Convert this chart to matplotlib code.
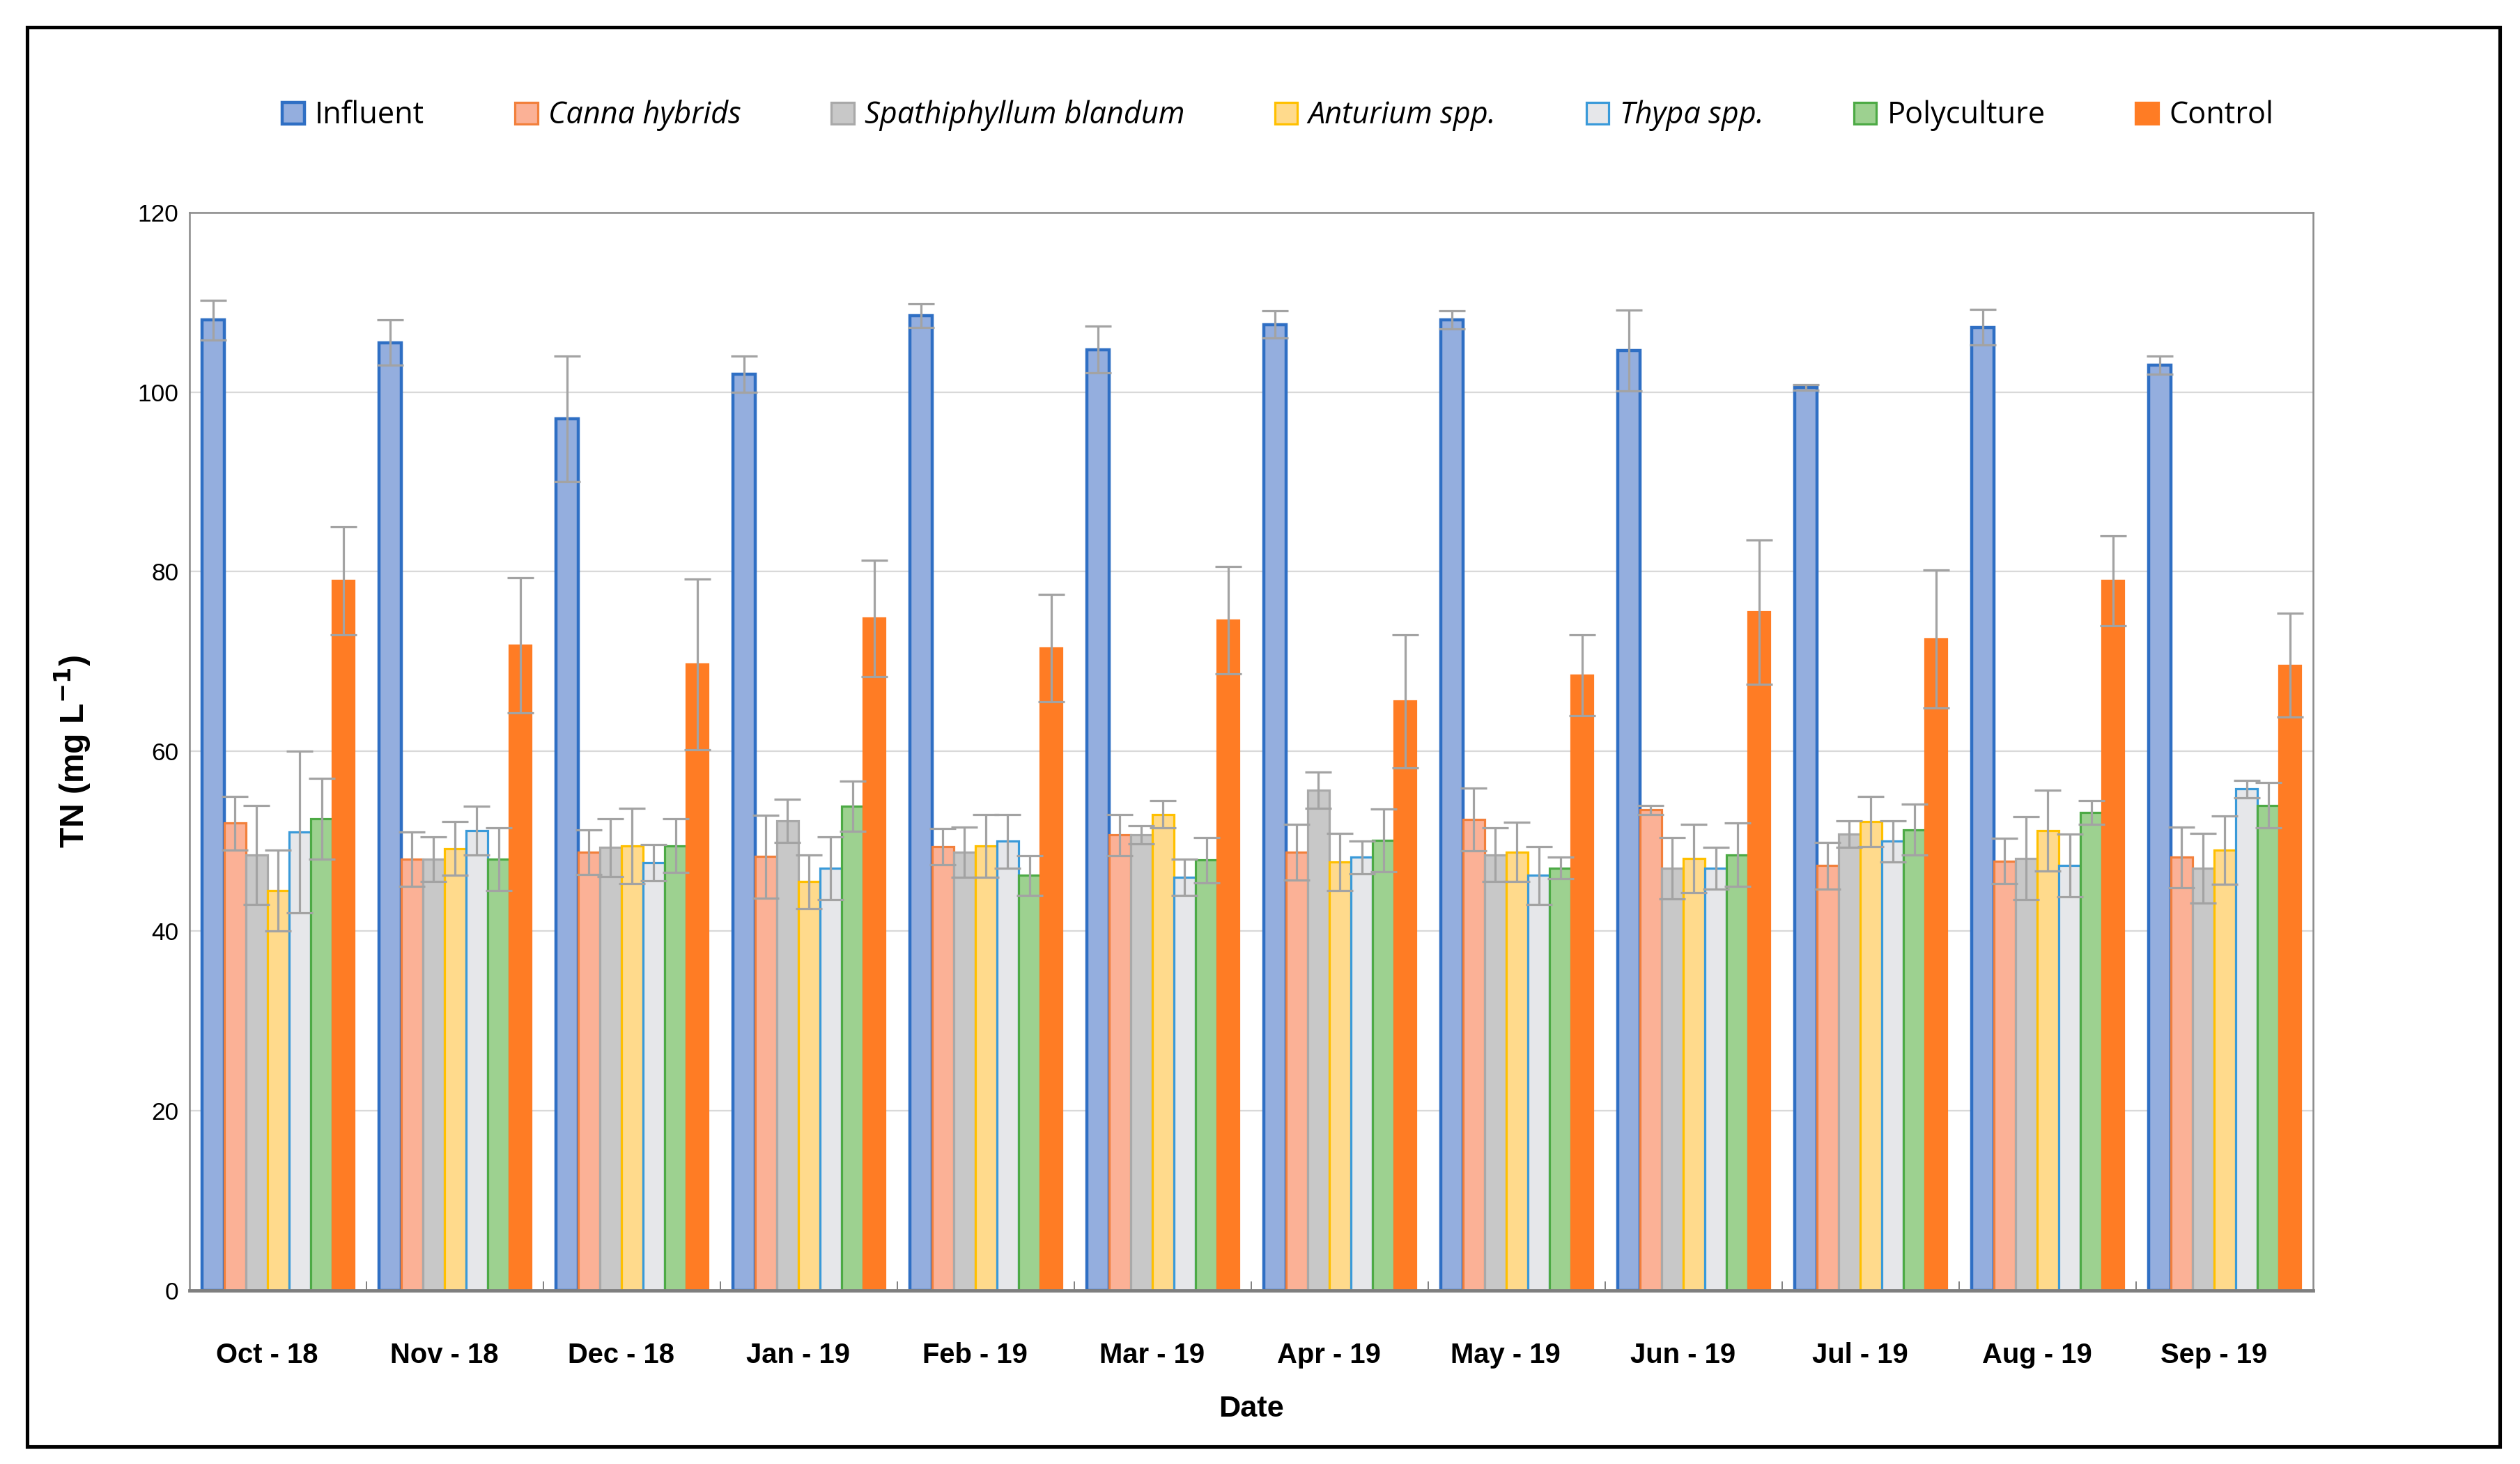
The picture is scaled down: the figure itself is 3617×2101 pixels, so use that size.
import matplotlib.pyplot as plt
from matplotlib.patches import Rectangle
from matplotlib.transforms import ScaledTranslation
import numpy as np

#dates on the x axis
months = ['Oct - 18', 'Nov - 18', 'Dec - 18', 'Jan - 19', 'Feb - 19', 'Mar - 19',
          'Apr - 19', 'May - 19', 'Jun - 19', 'Jul - 19', 'Aug - 19', 'Sep - 19']

#mean TN per treatment
influent = [108.0, 105.5, 97.0, 102.0, 108.5, 104.7, 107.5, 108.0, 104.6, 100.5, 107.2, 103.0]
canna = [52.0, 48.0, 48.8, 48.3, 49.4, 50.7, 48.8, 52.4, 53.5, 47.3, 47.8, 48.2]
spathiphyllum = [48.5, 48.0, 49.3, 52.3, 48.8, 50.7, 55.7, 48.5, 47.0, 50.8, 48.1, 47.0]
anturium = [44.5, 49.2, 49.5, 45.5, 49.5, 53.0, 47.7, 48.8, 48.1, 52.2, 51.2, 49.0]
thypa = [51.0, 51.2, 47.6, 47.0, 50.0, 46.0, 48.2, 46.2, 47.0, 50.0, 47.3, 55.8]
polyculture = [52.5, 48.0, 49.5, 53.9, 46.2, 47.9, 50.1, 47.0, 48.5, 51.3, 53.2, 54.0]
control = [79.0, 71.8, 69.7, 74.8, 71.5, 74.6, 65.6, 68.5, 75.5, 72.5, 79.0, 69.6]

#standard deviations (error bars)
influent_err = [2.2, 2.5, 7.0, 2.0, 1.3, 2.6, 1.5, 1.0, 4.5, 0.3, 2.0, 1.0]
canna_err = [3.0, 3.0, 2.5, 4.6, 2.0, 2.3, 3.1, 3.5, 0.5, 2.6, 2.5, 3.4]
spathiphyllum_err = [5.5, 2.5, 3.2, 2.4, 2.8, 1.0, 2.0, 3.0, 3.4, 1.5, 4.6, 3.9]
anturium_err = [4.5, 3.0, 4.2, 3.0, 3.5, 1.5, 3.2, 3.3, 3.8, 2.8, 4.5, 3.8]
thypa_err = [9.0, 2.7, 2.0, 3.5, 3.0, 2.0, 1.8, 3.2, 2.3, 2.3, 3.5, 1.0]
polyculture_err = [4.5, 3.5, 3.0, 2.8, 2.2, 2.5, 3.5, 1.2, 3.5, 2.8, 1.3, 2.5]
control_err = [6.0, 7.5, 9.5, 6.5, 6.0, 6.0, 7.4, 4.5, 8.0, 7.7, 5.0, 5.8]

labels = ['Influent', 'Canna hybrids', 'Spathiphyllum blandum', 'Anturium spp.',
          'Thypa spp.', 'Polyculture', 'Control']
series = [influent, canna, spathiphyllum, anturium, thypa, polyculture, control]
errors = [influent_err, canna_err, spathiphyllum_err, anturium_err, thypa_err,
          polyculture_err, control_err]

#fill and edge colours, excel style
fills = ['#94AEDE', '#FBB196', '#C8C8C8', '#FFDA8C', '#E6E7EA', '#9DD190', '#FF7C24']
edges = ['#2F6FC4', '#F2803C', '#A9A9A9', '#FFC000', '#3A9AD9', '#4DAA45', '#FF7C24']
styles = ['normal', 'italic', 'italic', 'italic', 'italic', 'normal', 'normal']

S = 230.7
fig = plt.figure(figsize=(3617 / S, 2101 / S), dpi=S)
ax = fig.add_axes([0.0753, 0.1185, 0.8427, 0.7365])

x = np.arange(len(months))
width = 0.1225
offsets = (np.arange(len(series)) - 3) * width

handles = []
for i in range(len(series)):
    lw = 1.4 if i == 0 else 1.0
    b = ax.bar(x + offsets[i], series[i], width, color=fills[i], edgecolor=edges[i],
               linewidth=lw, zorder=2, label=labels[i])
    handles.append(b)
    ax.errorbar(x + offsets[i], series[i], yerr=errors[i], fmt='none',
                ecolor='#A3A3A3', elinewidth=1.0, capsize=6, capthick=1.0, zorder=3)

ax.set_ylim(0, 120)
ax.set_xlim(-0.5, len(months) - 0.5)
ax.set_yticks(np.arange(0, 121, 20))
ax.yaxis.grid(True, color='#D9D9D9', linewidth=0.7, zorder=0)
ax.set_axisbelow(True)

#category labels in the middle, small ticks between groups
ax.set_xticks(x)
ax.set_xticklabels(months, fontsize=12.5, fontweight='bold', family='Liberation Sans')
ax.set_xticks(np.arange(0.5, len(months) - 1, 1), minor=True)
ax.tick_params(axis='x', which='major', length=0, pad=23)
ax.tick_params(axis='x', which='minor', length=4, direction='in', color='#7F7F7F')
ax.tick_params(axis='y', length=0, pad=5, labelsize=11)
for t in ax.get_yticklabels():
    t.set_family('Liberation Sans')
#labels sit a little left of the group centre
shift = ScaledTranslation(-5 / 72, 0, fig.dpi_scale_trans)
for t in ax.get_xticklabels():
    t.set_transform(t.get_transform() + shift)

for s in ['left', 'top', 'right']:
    ax.spines[s].set_color('#8C8C8C')
    ax.spines[s].set_linewidth(0.8)
ax.spines['bottom'].set_color('#7F7F7F')
ax.spines['bottom'].set_linewidth(1.5)

ax.set_xlabel('Date', fontsize=13.5, fontweight='bold', family='Liberation Sans', labelpad=12)
ax.set_ylabel('TN (mg L$^{\\mathbf{-1}}$)', fontsize=15, fontweight='bold',
              family='Liberation Sans', labelpad=20)

leg = fig.legend(handles=handles, loc='center', bbox_to_anchor=(0.507, 0.921), ncol=7,
                 frameon=False, fontsize=13.5, handlelength=0.75, handleheight=0.75,
                 handletextpad=0.35, columnspacing=3.0)
for t, st in zip(leg.get_texts(), styles):
    t.set_style(st)
    t.set_family('Open Sans')

#black frame round the whole chart
fig.patches.append(Rectangle((0.0108, 0.012), 0.9812, 0.9695, transform=fig.transFigure,
                             fill=False, edgecolor='black', linewidth=1.6))

fig.savefig('out.png', dpi=S, facecolor='white')
